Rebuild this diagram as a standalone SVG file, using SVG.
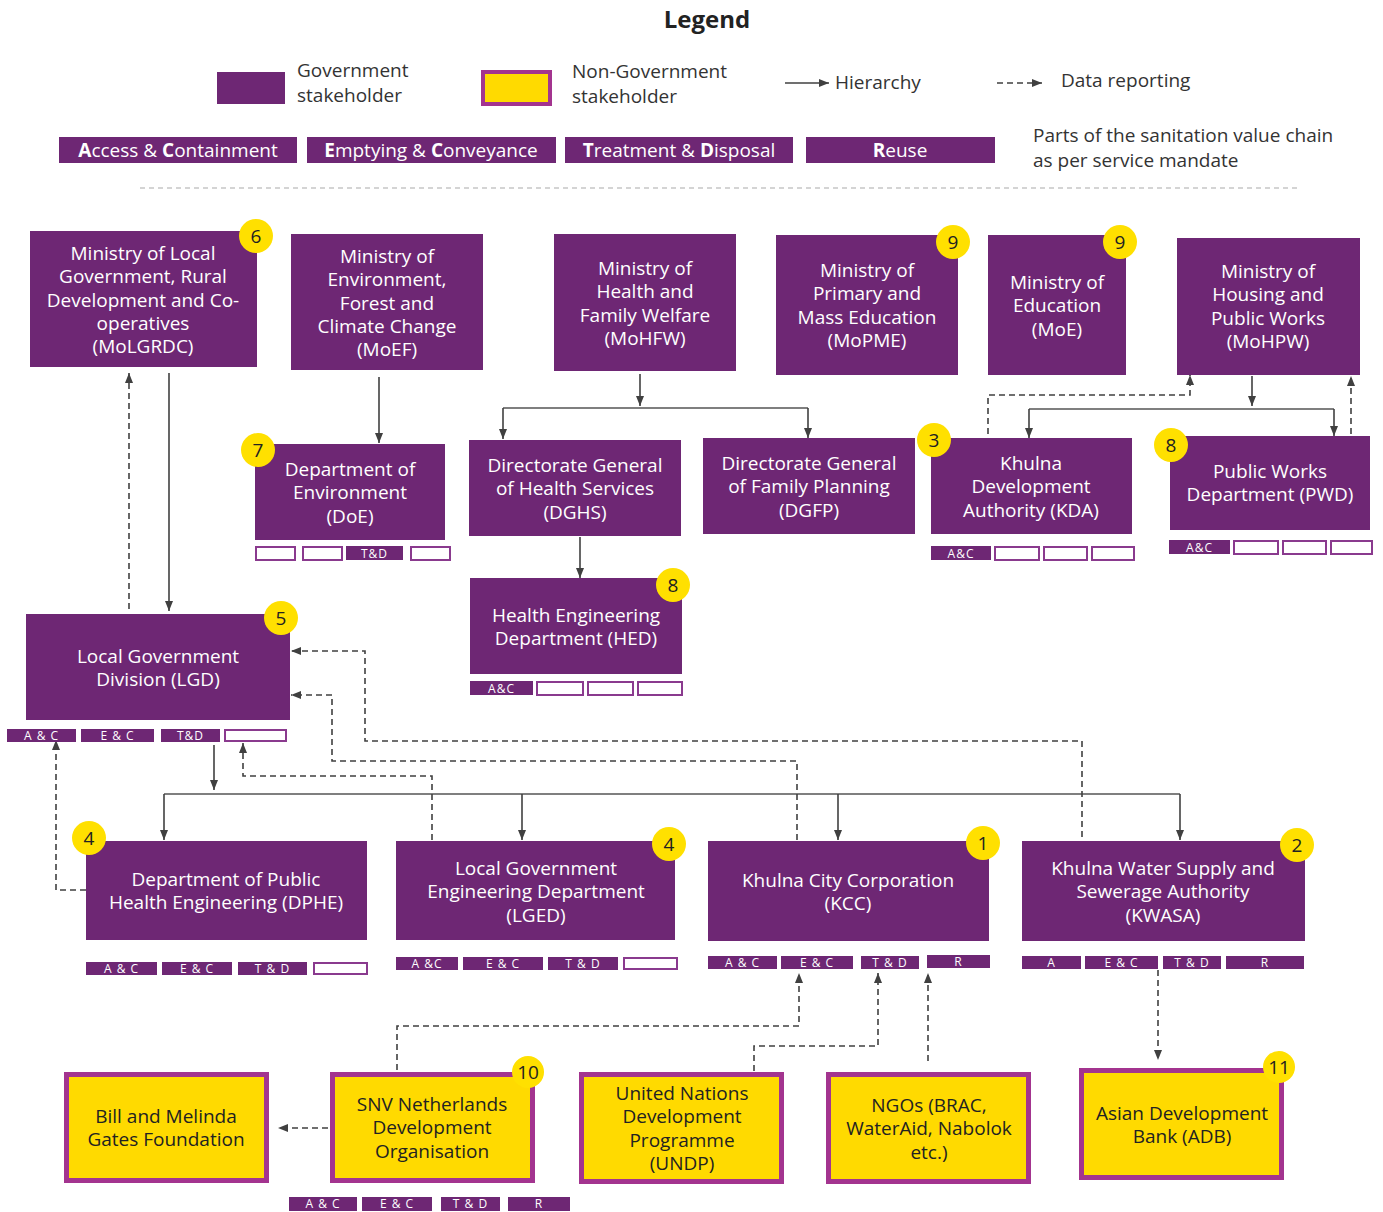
<svg xmlns="http://www.w3.org/2000/svg" width="1383" height="1212" viewBox="0 0 1383 1212">
<defs>
<marker id="ah" viewBox="0 0 10 10" refX="10" refY="5" markerWidth="10" markerHeight="10" markerUnits="userSpaceOnUse" orient="auto">
<path d="M0,1 L10,5 L0,9 z" fill="#404040"/>
</marker>
</defs>
<style>
.g{fill:#6e2774}
.ng{fill:#ffda00;stroke:#a3348f;stroke-width:5}
.t{font-family:'Open Sans','Noto Sans',sans-serif;font-size:19px;fill:#fff;text-anchor:middle}
.tn{fill:#222}
.lt{font-family:'Open Sans','Noto Sans',sans-serif;font-size:19px;fill:#333}
.bc{fill:#ffe000}
.bt{font-family:'Open Sans','Noto Sans',sans-serif;font-size:19px;fill:#222;text-anchor:middle}
.vf{fill:#6e2774}
.ve{fill:#fff;stroke:#8a3a8e;stroke-width:2}
.vt{font-family:'Open Sans','Noto Sans',sans-serif;font-size:12px;fill:#fff;text-anchor:middle;letter-spacing:1px}
.h{fill:none;stroke:#404040;stroke-width:1.6;marker-end:url(#ah)}
.hl{fill:none;stroke:#555;stroke-width:1.6}
.d{fill:none;stroke:#404040;stroke-width:1.6;stroke-dasharray:6,4;marker-end:url(#ah)}
.vb{font-family:'Open Sans','Noto Sans',sans-serif;font-size:19px;fill:#fff;text-anchor:middle}
</style>
<rect width="1383" height="1212" fill="#fff"/>

<!-- Legend -->
<g id="legend">
<text x="707" y="28" font-family="'Open Sans','Noto Sans',sans-serif" font-size="24" font-weight="bold" fill="#222" text-anchor="middle">Legend</text>
<rect class="g" x="217" y="72" width="68" height="32"/>
<text class="lt" x="297" y="77" font-size="18.5">Government<tspan x="297" dy="24.5">stakeholder</tspan></text>
<rect x="483" y="72" width="67" height="32" fill="#ffda00" stroke="#a3348f" stroke-width="4"/>
<text class="lt" x="572" y="78" font-size="18.5">Non-Government<tspan x="572" dy="24.5">stakeholder</tspan></text>
<line class="h" x1="785" y1="83" x2="829" y2="83"/>
<text class="lt" x="835" y="89">Hierarchy</text>
<line class="d" x1="997" y1="83" x2="1042" y2="83"/>
<text class="lt" x="1061" y="87">Data reporting</text>
<rect class="g" x="59" y="137" width="238" height="26"/>
<text class="vb" x="178" y="157"><tspan font-weight="bold">A</tspan>ccess &amp; <tspan font-weight="bold">C</tspan>ontainment</text>
<rect class="g" x="307" y="137" width="249" height="26"/>
<text class="vb" x="431" y="157"><tspan font-weight="bold">E</tspan>mptying &amp; <tspan font-weight="bold">C</tspan>onveyance</text>
<rect class="g" x="565" y="137" width="228" height="26"/>
<text class="vb" x="679" y="157"><tspan font-weight="bold">T</tspan>reatment &amp; <tspan font-weight="bold">D</tspan>isposal</text>
<rect class="g" x="806" y="137" width="189" height="26"/>
<text class="vb" x="900" y="157"><tspan font-weight="bold">R</tspan>euse</text>
<text class="lt" x="1033" y="142" font-size="19">Parts of the sanitation value chain<tspan x="1033" dy="24.5">as per service mandate</tspan></text>
<line x1="140" y1="188" x2="1297" y2="188" stroke="#aaa" stroke-width="1.2" stroke-dasharray="5,4"/>
</g>

<!-- Connectors -->
<g id="connectors">
<path class="h" d="M169,373 V611"/>
<path class="d" d="M129,609 V373"/>
<path class="h" d="M379,377 V443"/>
<path class="h" d="M640,374 V406"/>
<path class="hl" d="M503,408 H808"/>
<path class="h" d="M503,408 V439"/>
<path class="h" d="M808,408 V438"/>
<path class="h" d="M580,537 V578"/>
<path class="h" d="M1252,376 V406"/>
<path class="hl" d="M1029,409 H1334"/>
<path class="h" d="M1029,409 V438"/>
<path class="h" d="M1334,409 V436"/>
<path class="d" d="M988,434 V395 H1190 V375"/>
<path class="d" d="M1351,434 V376"/>
<path class="h" d="M214,745 V790"/>
<path class="hl" d="M164,794 H1180"/>
<path class="h" d="M164,794 V840"/>
<path class="h" d="M522,794 V840"/>
<path class="h" d="M838,794 V840"/>
<path class="h" d="M1180,794 V840"/>
<path class="d" d="M86,890 H56 V740"/>
<path class="d" d="M432,840 V776 H243 V743"/>
<path class="d" d="M797,840 V761 H332 V695 H291"/>
<path class="d" d="M1082,837 V741 H365 V651 H291"/>
<path class="d" d="M397,1070 V1026 H799 V973"/>
<path class="d" d="M754,1071 V1046 H878 V973"/>
<path class="d" d="M928,1061 V973"/>
<path class="d" d="M1158,970 V1060"/>
<path class="d" d="M328,1128 H278"/>
</g>

<!-- Top row ministries -->
<g id="MoLGRDC">
<rect class="g" x="30" y="231" width="227" height="136"/>
<text class="t" x="143" y="260">Ministry of Local<tspan x="143" dy="23.3">Government, Rural</tspan><tspan x="143" dy="23.3">Development and Co-</tspan><tspan x="143" dy="23.3">operatives</tspan><tspan x="143" dy="23.3">(MoLGRDC)</tspan></text>
<circle class="bc" cx="256" cy="236" r="17"/><text class="bt" x="256" y="243">6</text>
</g>
<g id="MoEF">
<rect class="g" x="291" y="234" width="192" height="136"/>
<text class="t" x="387" y="263">Ministry of<tspan x="387" dy="23.3">Environment,</tspan><tspan x="387" dy="23.3">Forest and</tspan><tspan x="387" dy="23.3">Climate Change</tspan><tspan x="387" dy="23.3">(MoEF)</tspan></text>
</g>
<g id="MoHFW">
<rect class="g" x="554" y="234" width="182" height="137"/>
<text class="t" x="645" y="275">Ministry of<tspan x="645" dy="23.3">Health and</tspan><tspan x="645" dy="23.3">Family Welfare</tspan><tspan x="645" dy="23.3">(MoHFW)</tspan></text>
</g>
<g id="MoPME">
<rect class="g" x="776" y="235" width="182" height="140"/>
<text class="t" x="867" y="277">Ministry of<tspan x="867" dy="23.3">Primary and</tspan><tspan x="867" dy="23.3">Mass Education</tspan><tspan x="867" dy="23.3">(MoPME)</tspan></text>
<circle class="bc" cx="953" cy="242" r="17"/><text class="bt" x="953" y="249">9</text>
</g>
<g id="MoE">
<rect class="g" x="988" y="235" width="138" height="140"/>
<text class="t" x="1057" y="289">Ministry of<tspan x="1057" dy="23.3">Education</tspan><tspan x="1057" dy="23.3">(MoE)</tspan></text>
<circle class="bc" cx="1120" cy="242" r="17"/><text class="bt" x="1120" y="249">9</text>
</g>
<g id="MoHPW">
<rect class="g" x="1177" y="238" width="183" height="137"/>
<text class="t" x="1268" y="278">Ministry of<tspan x="1268" dy="23.3">Housing and</tspan><tspan x="1268" dy="23.3">Public Works</tspan><tspan x="1268" dy="23.3">(MoHPW)</tspan></text>
</g>

<!-- Second row -->
<g id="DoE">
<rect class="g" x="255" y="444" width="190" height="96"/>
<text class="t" x="350" y="476">Department of<tspan x="350" dy="23.3">Environment</tspan><tspan x="350" dy="23.3">(DoE)</tspan></text>
<circle class="bc" cx="258" cy="450" r="17"/><text class="bt" x="258" y="457">7</text>
<rect class="ve" x="256" y="547" width="39" height="13"/>
<rect class="ve" x="303" y="547" width="39" height="13"/>
<rect class="vf" x="346" y="546" width="57" height="14"/><text class="vt" x="374.5" y="558">T&amp;D</text>
<rect class="ve" x="411" y="547" width="39" height="13"/>
</g>
<g id="DGHS">
<rect class="g" x="469" y="440" width="212" height="96"/>
<text class="t" x="575" y="472">Directorate General<tspan x="575" dy="23.3">of Health Services</tspan><tspan x="575" dy="23.3">(DGHS)</tspan></text>
</g>
<g id="DGFP">
<rect class="g" x="703" y="438" width="212" height="96"/>
<text class="t" x="809" y="470">Directorate General<tspan x="809" dy="23.3">of Family Planning</tspan><tspan x="809" dy="23.3">(DGFP)</tspan></text>
</g>
<g id="KDA">
<rect class="g" x="931" y="438" width="201" height="96"/>
<text class="t" x="1031" y="470">Khulna<tspan x="1031" dy="23.3">Development</tspan><tspan x="1031" dy="23.3">Authority (KDA)</tspan></text>
<circle class="bc" cx="934" cy="440" r="17"/><text class="bt" x="934" y="447">3</text>
<rect class="vf" x="931" y="546" width="60" height="14"/><text class="vt" x="961" y="558">A&amp;C</text>
<rect class="ve" x="995" y="547" width="44" height="13"/>
<rect class="ve" x="1044" y="547" width="43" height="13"/>
<rect class="ve" x="1092" y="547" width="42" height="13"/>
</g>
<g id="PWD">
<rect class="g" x="1170" y="436" width="200" height="94"/>
<text class="t" x="1270" y="478">Public Works<tspan x="1270" dy="23.3">Department (PWD)</tspan></text>
<circle class="bc" cx="1171" cy="445" r="17"/><text class="bt" x="1171" y="452">8</text>
<rect class="vf" x="1169" y="540" width="61" height="14"/><text class="vt" x="1199.5" y="552">A&amp;C</text>
<rect class="ve" x="1234" y="541" width="44" height="13"/>
<rect class="ve" x="1283" y="541" width="43" height="13"/>
<rect class="ve" x="1331" y="541" width="41" height="13"/>
</g>
<g id="HED">
<rect class="g" x="470" y="578" width="212" height="96"/>
<text class="t" x="576" y="622">Health Engineering<tspan x="576" dy="23.3">Department  (HED)</tspan></text>
<circle class="bc" cx="673" cy="585" r="17"/><text class="bt" x="673" y="592">8</text>
<rect class="vf" x="470" y="681" width="63" height="14"/><text class="vt" x="501.5" y="693">A&amp;C</text>
<rect class="ve" x="537" y="682" width="46" height="13"/>
<rect class="ve" x="588" y="682" width="45" height="13"/>
<rect class="ve" x="638" y="682" width="44" height="13"/>
</g>

<!-- LGD -->
<g id="LGD">
<rect class="g" x="26" y="614" width="264" height="106"/>
<text class="t" x="158" y="663">Local Government<tspan x="158" dy="23.3">Division (LGD)</tspan></text>
<circle class="bc" cx="281" cy="618" r="17"/><text class="bt" x="281" y="625">5</text>
<rect class="vf" x="7" y="729" width="69" height="13"/><text class="vt" x="41.5" y="740">A &amp; C</text>
<rect class="vf" x="81" y="729" width="73" height="13"/><text class="vt" x="117.5" y="740">E &amp; C</text>
<rect class="vf" x="161" y="729" width="59" height="13"/><text class="vt" x="190.5" y="740">T&amp;D</text>
<rect class="ve" x="225" y="730" width="61" height="11"/>
</g>

<!-- Third row -->
<g id="DPHE">
<rect class="g" x="86" y="841" width="281" height="99"/>
<text class="t" x="226" y="886">Department of Public<tspan x="226" dy="23.3">Health Engineering (DPHE)</tspan></text>
<circle class="bc" cx="89" cy="838" r="17"/><text class="bt" x="89" y="845">4</text>
<rect class="vf" x="86" y="962" width="71" height="13"/><text class="vt" x="121.5" y="973">A &amp; C</text>
<rect class="vf" x="162" y="962" width="70" height="13"/><text class="vt" x="197" y="973">E &amp; C</text>
<rect class="vf" x="238" y="962" width="69" height="13"/><text class="vt" x="272.5" y="973">T &amp; D</text>
<rect class="ve" x="314" y="963" width="53" height="11"/>
</g>
<g id="LGED">
<rect class="g" x="396" y="841" width="279" height="99"/>
<text class="t" x="536" y="875">Local Government<tspan x="536" dy="23.3">Engineering Department</tspan><tspan x="536" dy="23.3">(LGED)</tspan></text>
<circle class="bc" cx="669" cy="844" r="17"/><text class="bt" x="669" y="851">4</text>
<rect class="vf" x="396" y="957" width="62" height="13"/><text class="vt" x="427" y="968">A &amp;C</text>
<rect class="vf" x="463" y="957" width="80" height="13"/><text class="vt" x="503" y="968">E &amp; C</text>
<rect class="vf" x="548" y="957" width="70" height="13"/><text class="vt" x="583" y="968">T &amp; D</text>
<rect class="ve" x="624" y="958" width="53" height="11"/>
</g>
<g id="KCC">
<rect class="g" x="708" y="841" width="281" height="100"/>
<text class="t" x="848" y="887">Khulna City Corporation<tspan x="848" dy="23.3">(KCC)</tspan></text>
<circle class="bc" cx="983" cy="843" r="17"/><text class="bt" x="983" y="850">1</text>
<rect class="vf" x="708" y="956" width="69" height="13"/><text class="vt" x="742.5" y="967">A &amp; C</text>
<rect class="vf" x="781" y="956" width="72" height="13"/><text class="vt" x="817" y="967">E &amp; C</text>
<rect class="vf" x="861" y="956" width="58" height="13"/><text class="vt" x="890" y="967">T &amp; D</text>
<rect class="vf" x="927" y="955" width="63" height="13"/><text class="vt" x="958.5" y="966">R</text>
</g>
<g id="KWASA">
<rect class="g" x="1022" y="841" width="283" height="100"/>
<text class="t" x="1163" y="875">Khulna Water Supply and<tspan x="1163" dy="23.3">Sewerage Authority</tspan><tspan x="1163" dy="23.3">(KWASA)</tspan></text>
<circle class="bc" cx="1297" cy="845" r="17"/><text class="bt" x="1297" y="852">2</text>
<rect class="vf" x="1022" y="956" width="59" height="13"/><text class="vt" x="1051.5" y="967">A</text>
<rect class="vf" x="1085" y="956" width="73" height="13"/><text class="vt" x="1121.5" y="967">E &amp; C</text>
<rect class="vf" x="1163" y="956" width="58" height="13"/><text class="vt" x="1192" y="967">T &amp; D</text>
<rect class="vf" x="1226" y="956" width="78" height="13"/><text class="vt" x="1265" y="967">R</text>
</g>

<!-- Non-government -->
<g id="BMGF">
<rect class="ng" x="66.5" y="1074.5" width="200" height="106"/>
<text class="t tn" x="166" y="1123">Bill and Melinda<tspan x="166" dy="23.3">Gates Foundation</tspan></text>
</g>
<g id="SNV">
<rect class="ng" x="332.5" y="1074.5" width="200" height="106"/>
<text class="t tn" x="432" y="1111">SNV Netherlands<tspan x="432" dy="23.3">Development</tspan><tspan x="432" dy="23.3">Organisation</tspan></text>
<circle class="bc" cx="528" cy="1072" r="16"/><text class="bt" x="528" y="1079">10</text>
<rect class="vf" x="289" y="1197" width="68" height="14"/><text class="vt" x="323" y="1208">A &amp; C</text>
<rect class="vf" x="362" y="1197" width="70" height="14"/><text class="vt" x="397" y="1208">E &amp; C</text>
<rect class="vf" x="441" y="1197" width="59" height="14"/><text class="vt" x="470.5" y="1208">T &amp; D</text>
<rect class="vf" x="508" y="1197" width="62" height="14"/><text class="vt" x="539" y="1208">R</text>
</g>
<g id="UNDP">
<rect class="ng" x="581.5" y="1074.5" width="200" height="107"/>
<text class="t tn" x="682" y="1100">United Nations<tspan x="682" dy="23.3">Development</tspan><tspan x="682" dy="23.3">Programme</tspan><tspan x="682" dy="23.3">(UNDP)</tspan></text>
</g>
<g id="NGOs">
<rect class="ng" x="828.5" y="1074.5" width="200" height="107"/>
<text class="t tn" x="929" y="1112">NGOs (BRAC,<tspan x="929" dy="23.3">WaterAid, Nabolok</tspan><tspan x="929" dy="23.3">etc.)</tspan></text>
</g>
<g id="ADB">
<rect class="ng" x="1081.5" y="1070.5" width="200" height="107"/>
<text class="t tn" x="1182" y="1120">Asian Development<tspan x="1182" dy="23.3">Bank (ADB)</tspan></text>
<circle class="bc" cx="1279" cy="1067" r="16"/><text class="bt" x="1279" y="1074">11</text>
</g>
</svg>
